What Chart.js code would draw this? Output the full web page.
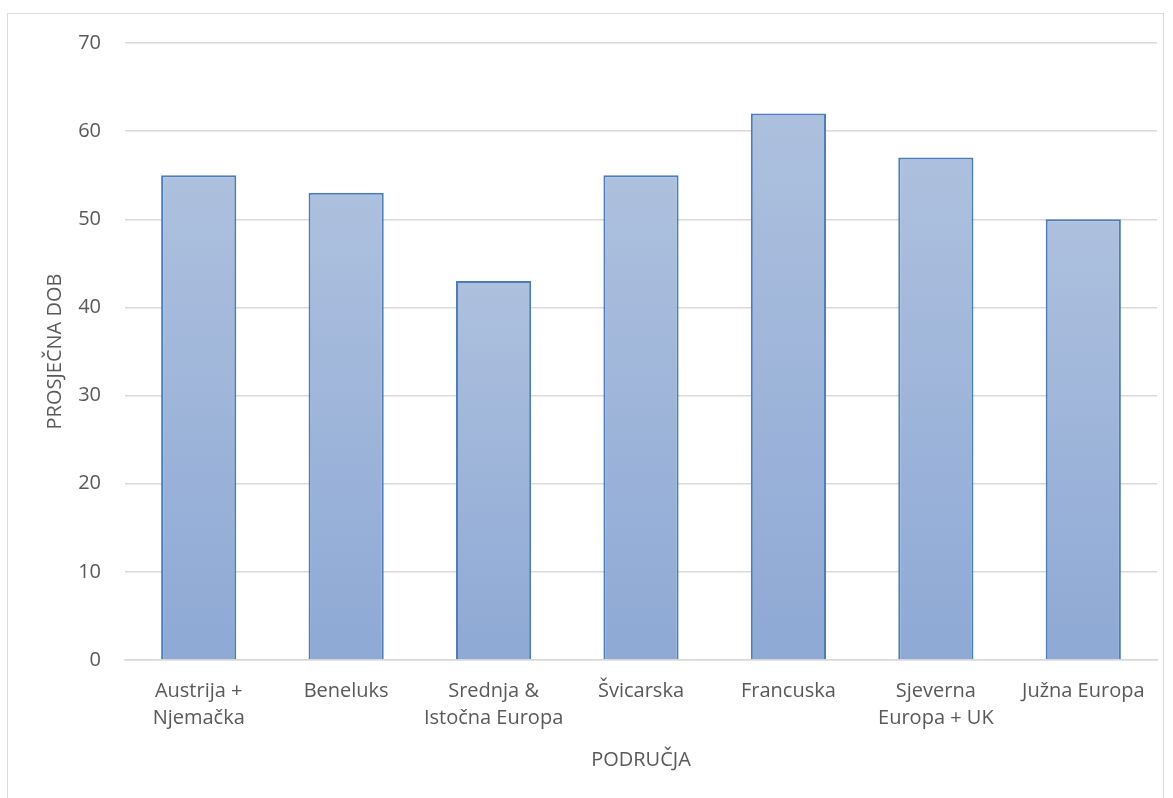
<!DOCTYPE html>
<html>
<head>
<meta charset="utf-8">
<script src="https://cdn.jsdelivr.net/npm/chart.js@4/dist/chart.umd.min.js"></script>
<style>
  html, body { margin: 0; padding: 0; background: #fff; overflow: hidden; }
  #okvir { position: absolute; left: 7px; top: 13px; width: 1155px; height: 800px; border: 1px solid #d9d9d9; border-bottom: none; }
  #wrap { position: absolute; left: 0; top: 0; width: 1173px; height: 798px; }
</style>
</head>
<body>
<div id="okvir"></div>
<div id="wrap"><canvas id="grafikon"></canvas></div>
<script>
const podrucja = [
    ['Austrija +', 'Njemačka'],
    'Beneluks',
    ['Srednja &', 'Istočna Europa'],
    'Švicarska',
    'Francuska',
    ['Sjeverna', 'Europa + UK'],
    'Južna Europa'
];
const prosjecnaDob = [55, 53, 43, 55, 62, 57, 50];
const yMin = 0;
const yMax = 70;
const yKorak = 10;

const siva = '#595959';
const font = { family: '"Open Sans", "Noto Sans", sans-serif', size: 20 };

function gradijent(context) {
    const chart = context.chart;
    const y = chart.scales.y;
    if (!chart.chartArea || !y || context.dataIndex === undefined) {
        return '#a0b6da';
    }
    const vrh = y.getPixelForValue(context.raw);
    const dno = y.getPixelForValue(0);
    const g = chart.ctx.createLinearGradient(0, vrh, 0, dno);
    g.addColorStop(0, '#adc0de');
    g.addColorStop(1, '#8ea9d5');
    return g;
}

const ctx = document.getElementById('grafikon').getContext('2d');
new Chart(ctx, {
    type: 'bar',
    data: {
        labels: podrucja,
        datasets: [{
            data: prosjecnaDob,
            backgroundColor: gradijent,
            borderColor: '#4a7ebb',
            borderWidth: 2,
            categoryPercentage: 1,
            barPercentage: 0.51
        }]
    },
    options: {
        responsive: true,
        maintainAspectRatio: false,
        animation: false,
        layout: { padding: { left: 0, right: 16, top: 43, bottom: 0 } },
        plugins: {
            legend: { display: false },
            tooltip: { enabled: false }
        },
        scales: {
            x: {
                grid: { display: false, drawTicks: false },
                border: { color: '#d9d9d9', width: 1.5 },
                ticks: {
                    color: siva,
                    font: { ...font, lineHeight: 1.35 },
                    padding: 18,
                    maxRotation: 0,
                    autoSkip: false
                },
                title: {
                    display: true,
                    text: 'PODRUČJA',
                    color: siva,
                    font: font,
                    padding: { top: 0, bottom: 26 }
                },
                afterFit: function (scale) { scale.height = 138; }
            },
            y: {
                min: yMin,
                max: yMax,
                grid: { color: '#d9d9d9', lineWidth: 1.5, drawTicks: false },
                border: { display: false },
                ticks: {
                    stepSize: yKorak,
                    color: siva,
                    font: font,
                    padding: 24
                },
                title: {
                    display: true,
                    text: 'PROSJEČNA DOB',
                    color: siva,
                    font: font,
                    padding: { top: 43, bottom: 0 }
                },
                afterFit: function (scale) { scale.width = 125; }
            }
        }
    }
});
</script>
</body>
</html>
